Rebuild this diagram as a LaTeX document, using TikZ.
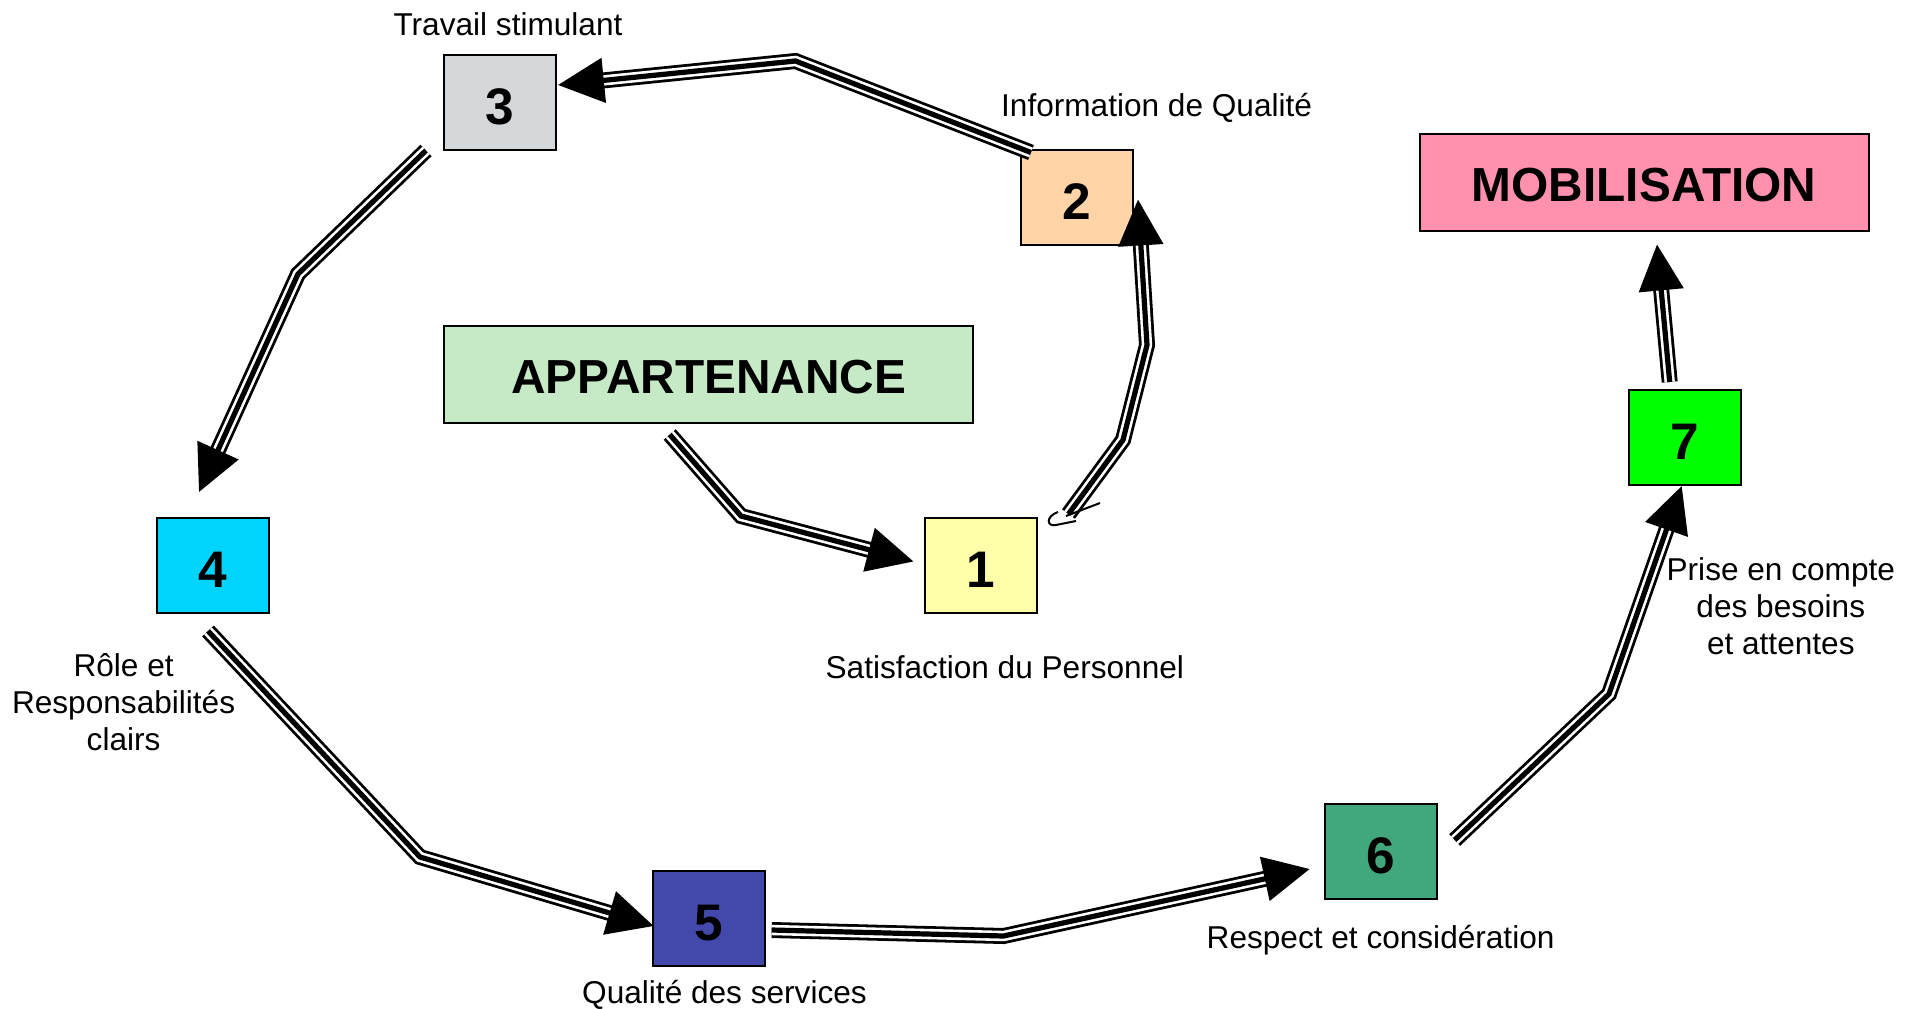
\documentclass[tikz,border=0pt]{standalone}
\usepackage{fontspec}
\setmainfont{Liberation Sans}
\usepackage{xcolor}
\usepackage{tikz}
\usetikzlibrary{arrows.meta,positioning,calc}

\definecolor{grey3}{HTML}{D4D8DB}
\definecolor{peach2}{HTML}{FFD5A8}
\definecolor{yellow1}{HTML}{FFFFAA}
\definecolor{cyan4}{HTML}{00D4FF}
\definecolor{blue5}{HTML}{4349AA}
\definecolor{green6}{HTML}{40A87C}
\definecolor{green7}{HTML}{00FF00}
\definecolor{appgreen}{HTML}{C5EAC5}
\definecolor{mobpink}{HTML}{FF91AF}

\begin{document}
\begin{tikzpicture}[
  x=0.5pt,y=-0.5pt,
  flow/.style={draw=black,line width=8pt,shorten >=14pt,
    postaction={draw=white,line width=5.2pt,shorten >=14pt},
    postaction={draw=black,line width=2.6pt,shorten >=0pt,
      -{Triangle[length=23pt,width=22pt]}}},
  numbox/.style={draw,line width=1pt,minimum width=56pt,
    minimum height=47.5pt,inner sep=0pt,text height=22.4pt,text depth=0pt,
    font=\fontsize{25.7}{30}\selectfont\bfseries},
  titlebox/.style={draw,line width=1pt,minimum height=48.5pt,
    inner sep=0pt,text height=19.5pt,text depth=0pt,
    font=\fontsize{23.9}{28}\selectfont\bfseries},
  lbl/.style={align=center,inner sep=0pt,
    font=\fontsize{15.8}{18.5}\selectfont}
]
  \useasboundingbox (0,0) rectangle (1919,1008);

  \node[numbox,fill=yellow1] (n1) at (980.5,565.5) {1};
  \node[numbox,fill=peach2] (n2) at (1077,197) {2};
  \node[numbox,fill=grey3] (n3) at (500,102) {3};
  \node[numbox,fill=cyan4] (n4) at (213,565.5) {4};
  \node[numbox,fill=blue5] (n5) at (708.7,918) {5};
  \node[numbox,fill=green6] (n6) at (1380.7,851) {6};
  \node[numbox,fill=green7] (n7) at (1684.7,437.5) {7};
  \node[titlebox,fill=appgreen,minimum width=264.5pt] (app) at (708.7,374)
    {APPARTENANCE};
  \node[titlebox,fill=mobpink,minimum width=224.5pt] (mob) at (1644,182)
    {MOBILISATION};

  \node[lbl] (l1) at (1004.8,667) {Satisfaction du Personnel};
  \node[lbl] (l2) at (1156.6,107.5) {Information de Qualité};
  \node[lbl] (l3) at (508,24.5) {Travail stimulant};
  \node[lbl] (l4) at (123.6,702.5) {Rôle et\\Responsabilités\\clairs};
  \node[lbl] (l5) at (724.5,995) {Qualité des services};
  \node[lbl] (l6) at (1380.6,940) {Respect et considération};
  \node[lbl] (l7) at (1780.8,606) {Prise en compte\\des besoins\\et attentes};

  \draw[flow] ([shift={(-39,11)}]app.south) -- (741,516)
    -- ([shift={(-10,-4)}]n1.west);
  \draw[flow] ([shift={(31,-3)}]n1.north east) -- (1123,440) -- (1147,345)
    -- ([shift={(4,-46)}]n2.south east);
  \draw[flow] ([shift={(11,4)}]n2.north west) -- (795.5,61)
    -- ([shift={(1,-17)}]n3.east);
  \draw[flow] ([shift={(-17,0)}]n3.south west) -- (298,274)
    -- ([shift={(-14,-25)}]n4.north);
  \draw[flow] ([shift={(-5,17)}]n4.south) -- (420,857)
    -- ([shift={(2,8)}]n5.west);
  \draw[flow] ([shift={(6,12)}]n5.east) -- (1003.6,936)
    -- ([shift={(-14,18)}]n6.west);
  \draw[flow] ([shift={(17,-11)}]n6.east) -- (1609,694)
    -- ([shift={(-3,0)}]n7.south);
  \draw[flow] ([shift={(-15,-7)}]n7.north) -- ([shift={(13,13)}]mob.south);

  % stray hook at the tail of 1 -> 2
  \draw[line width=1pt] (1058,512) .. controls (1046,516) and (1046,527) .. (1056,525)
    -- (1076,521);
  \draw[line width=1pt] (1066,516) -- (1100,503);
\end{tikzpicture}
\end{document}
